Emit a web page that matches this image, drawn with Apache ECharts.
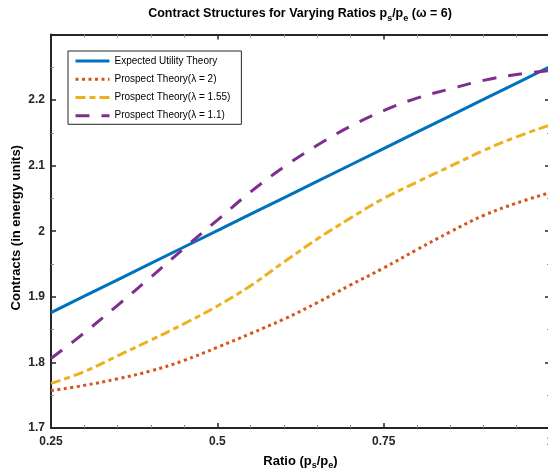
<!DOCTYPE html>
<html><head><meta charset="utf-8">
<script src="https://cdn.jsdelivr.net/npm/echarts@6/dist/echarts.min.js"></script>
<style>html,body{margin:0;padding:0;background:#fff}#c{width:548px;height:475px}</style>
</head><body><div id="c"></div>
<script>
// ---- data ----
const ratios = [0.25,0.30,0.35,0.40,0.45,0.50,0.55,0.60,0.65,0.70,0.75,0.80,0.85,0.90,0.95,1.00];
const eut    = [1.876,1.901,1.926,1.951,1.976,2.001,2.026,2.051,2.076,2.101,2.126,2.151,2.176,2.201,2.226,2.251];
const pt2    = [1.757,1.765,1.775,1.787,1.803,1.823,1.844,1.866,1.891,1.918,1.944,1.972,1.999,2.024,2.043,2.059];
const pt155  = [1.768,1.786,1.810,1.834,1.859,1.886,1.917,1.953,1.988,2.020,2.050,2.075,2.099,2.123,2.144,2.162];
const pt11   = [1.806,1.845,1.887,1.930,1.974,2.017,2.060,2.098,2.131,2.160,2.184,2.203,2.217,2.230,2.239,2.245];
const seriesNames = ['Expected Utility Theory','Prospect Theory(\u03bb = 2)','Prospect Theory(\u03bb = 1.55)','Prospect Theory(\u03bb = 1.1)'];
const xTickValues = [0.25,0.5,0.75,1];
const xTickLabels = ['0.25','0.5','0.75','1'];
const yTickValues = [1.7,1.8,1.9,2.0,2.1,2.2];
const yTickLabels = ['1.7','1.8','1.9','2','2.1','2.2'];
const titleText = 'Contract Structures for Varying Ratios p{s|s}/p{s|e} (\u03c9 = 6)';
const xName = 'Ratio (p{s|s}/p{s|e})';
const yName = 'Contracts (in energy units)';

const FF = "'Liberation Sans', Arial, Helvetica, sans-serif";
const AX = '#262626';
function pairs(ys){ return ratios.map((x,i)=>[x, ys[i]]); }
function lookup(vals, labels, v){
  for (let i=0;i<vals.length;i++) if (Math.abs(vals[i]-v)<1e-6) return labels[i];
  return '';
}
const subRich = { s: { fontFamily: FF, fontWeight: 'bold', fontSize: 9, verticalAlign: 'bottom', lineHeight: 9, color: '#000' } };
const axLine = { show:true, lineStyle:{ color:AX, width:2 } };
const axTick = { show:true, inside:true, length:5, lineStyle:{ color:AX, width:1.5 } };
const minorX = { show:true, splitNumber:5, length:3, lineStyle:{ color:'#8a8a8a', width:1 } };
const minorY = { show:true, splitNumber:2, length:3, lineStyle:{ color:'#8a8a8a', width:1 } };

const chart = echarts.init(document.getElementById('c'), null, {renderer:'canvas'});
const baseX = { type:'value', min:0.25, max:1, interval:0.25 };
const baseY = { type:'value', min:1.7, max:2.3, interval:0.1 };
chart.setOption({
  animation:false,
  backgroundColor:'#fff',
  title:{
    text: titleText, left: 300, top: 5, padding: 0, textAlign: 'center',
    textStyle:{ fontFamily: FF, fontWeight:'bold', fontSize:12.5, color:'#000', lineHeight:18, rich: subRich }
  },
  grid:{ left:51, top:34.5, width:499, height:393.5, containLabel:false, outerBoundsMode:'none' },
  legend:{
    orient:'vertical', left:68, top:51, padding:[4.5,11,3,6],
    itemWidth:34, itemHeight:14, itemGap:7, itemTextGap:5,
    borderColor:AX, borderWidth:1, backgroundColor:'#fff',
    itemStyle:{ opacity:0, borderWidth:0 },
    lineStyle:{ width:3 },
    textStyle:{ fontFamily:FF, fontSize:10, color:'#000' },
    data: seriesNames
  },
  xAxis:[
    Object.assign({}, baseX, {
      position:'bottom',
      name: xName, nameLocation:'middle', nameGap:24, nameMoveOverlap:false,
      nameTextStyle:{ fontFamily:FF, fontWeight:'bold', fontSize:13, color:'#000', lineHeight:18, rich: subRich },
      axisLine: axLine, axisTick: axTick, minorTick: minorX,
      axisLabel:{ margin:8, fontFamily:FF, fontWeight:'bold', fontSize:12, color:AX,
        formatter: v => lookup(xTickValues, xTickLabels, v) },
      splitLine:{ show:false }
    }),
    Object.assign({}, baseX, {
      position:'top',
      axisLine: axLine, axisTick: axTick, minorTick: minorX,
      axisLabel:{ show:false }, splitLine:{ show:false }
    })
  ],
  yAxis:[
    Object.assign({}, baseY, {
      position:'left',
      name: yName, nameLocation:'middle', nameGap:27, nameMoveOverlap:false,
      nameTextStyle:{ fontFamily:FF, fontWeight:'bold', fontSize:13, color:'#000', lineHeight:15, padding:[0,0,0,7] },
      axisLine: axLine, axisTick: axTick, minorTick: minorY,
      axisLabel:{ margin:6, fontFamily:FF, fontWeight:'bold', fontSize:12, color:AX, showMaxLabel:false,
        formatter: v => lookup(yTickValues, yTickLabels, v) },
      splitLine:{ show:false }
    }),
    Object.assign({}, baseY, {
      position:'right',
      axisLine: axLine, axisTick: axTick, minorTick: minorY,
      axisLabel:{ show:false }, splitLine:{ show:false }
    })
  ],
  series:[
    { name:seriesNames[0], type:'line', data:pairs(eut), symbol:'none', smooth:false,
      lineStyle:{ color:'#0072BD', width:3, type:'solid' }, itemStyle:{ color:'#0072BD' } },
    { name:seriesNames[1], type:'line', data:pairs(pt2), symbol:'none', smooth:0.4,
      lineStyle:{ color:'#D95319', width:3, type:[3,3.5] }, itemStyle:{ color:'#D95319' } },
    { name:seriesNames[2], type:'line', data:pairs(pt155), symbol:'none', smooth:0.4,
      lineStyle:{ color:'#EDB120', width:3, type:[10,4,6,4] }, itemStyle:{ color:'#EDB120' } },
    { name:seriesNames[3], type:'line', data:pairs(pt11), symbol:'none', smooth:0.4,
      lineStyle:{ color:'#7E2F8E', width:3, type:[14,12] }, itemStyle:{ color:'#7E2F8E' } }
  ]
});
</script></body></html>
